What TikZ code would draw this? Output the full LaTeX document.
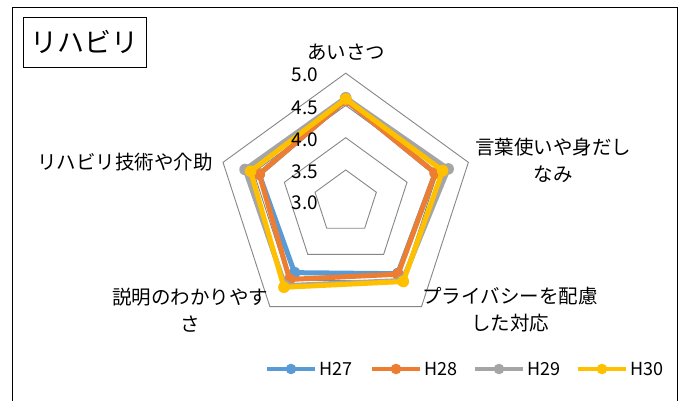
\documentclass[tikz,border=0pt]{standalone}
\usepackage{fontspec}
\setmainfont{Noto Sans CJK JP}
\definecolor{c27}{HTML}{5B9BD5}
\definecolor{c28}{HTML}{ED7D31}
\definecolor{c29}{HTML}{A5A5A5}
\definecolor{c30}{HTML}{FFC000}
\definecolor{gridc}{HTML}{868686}
\newcommand\drawradarseries[6]{%
  \draw[ser,#1] (-90:{(#2-3)*64.5}) -- (-18:{(#3-3)*64.5}) -- (54:{(#4-3)*64.5}) -- (126:{(#5-3)*64.5}) -- (198:{(#6-3)*64.5}) -- cycle;
  \foreach \a/\v in {-90/#2,-18/#3,54/#4,126/#5,198/#6} \fill[#1] (\a:{(\v-3)*64.5}) circle (5.8pt);
}
\begin{document}
\begin{tikzpicture}[x=1pt,y=-1pt,
  lbl/.style={font=\fontsize{19.5}{27}\selectfont, inner sep=0pt, align=center},
  tick/.style={font=\fontsize{19}{20}\selectfont, inner sep=0pt},
  legtext/.style={font=\fontsize{18}{20}\selectfont, inner sep=0pt},
  grid/.style={draw=gridc, line width=0.9pt},
  ser/.style={line width=5pt, line join=round},
  legline/.style={line width=4pt}]
\useasboundingbox (0,0) rectangle (691,400);
\fill[white] (0,0) rectangle (691,400);
\draw[line width=1pt] (12,402) -- (12,7) -- (677,7) -- (677,402);
\node[draw, line width=1pt, minimum width=123pt, minimum height=50pt, inner sep=0pt, font=\fontsize{27}{30}\selectfont] (title) at (84.5,42) {リハビリ};

\begin{scope}[shift={(345.7,202.2)}]
  \foreach \r in {32.25,64.5,96.75,129}
    \draw[grid] (-90:\r) -- (-18:\r) -- (54:\r) -- (126:\r) -- (198:\r) -- cycle;
  \drawradarseries{c27}{4.58}{4.46}{4.37}{4.35}{4.41}
  \drawradarseries{c28}{4.58}{4.46}{4.38}{4.48}{4.41}
  \drawradarseries{c29}{4.62}{4.67}{4.50}{4.60}{4.64}
  \drawradarseries{c30}{4.60}{4.58}{4.52}{4.63}{4.55}
\end{scope}

\node[tick] (t50) at (305,75) {5.0};
\node[tick] (t45) at (305,108) {4.5};
\node[tick] (t40) at (305,140) {4.0};
\node[tick] (t35) at (305,172) {3.5};
\node[tick] (t30) at (305,203) {3.0};

\node[lbl] (a1) at (346,52) {あいさつ};
\node[lbl] (a2) at (553,160) {言葉使いや身だし\\なみ};
\node[lbl] (a3) at (510,310) {プライバシーを配慮\\した対応};
\node[lbl] (a4) at (190,310) {説明のわかりやす\\さ};
\node[lbl, anchor=east] (a5) at (213,162) {リハビリ技術や介助};

\foreach \c/\x/\t in {c27/267/H27, c28/372/H28, c29/475/H29, c30/578/H30}{
  \draw[legline,\c] (\x,369) -- (\x+48,369);
  \fill[\c] (\x+24,369) circle (5.3pt);
  \node[legtext, anchor=west] (leg\t) at (\x+52,369) {\t};
}
\end{tikzpicture}
\end{document}
